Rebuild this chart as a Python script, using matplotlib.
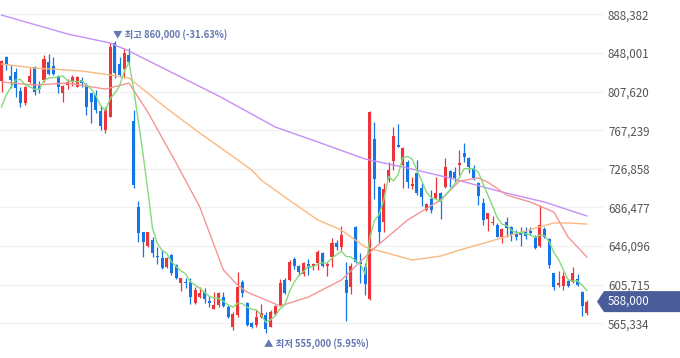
import numpy as np
import pandas as pd
import matplotlib
matplotlib.use('Agg')
import matplotlib.pyplot as plt
from matplotlib.patches import Polygon

plt.rcParams['font.family'] = ['Noto Sans CJK KR', 'DejaVu Sans']

# 일봉 시가 / 고가 / 저가 / 종가 (단위: 천원)
open_k = [819, 844, 824, 828, 808, 796, 818, 833, 813, 820,
          839, 834, 823, 806, 814, 818, 812, 820, 814, 806,
          804, 787, 767, 781, 858, 836, 831, 846, 777, 687,
          661, 646, 652, 636, 634, 624, 637, 626, 607, 609,
          609, 587, 593, 598, 589, 580, 584, 593, 582, 561,
          574, 609, 587, 566, 564, 572, 574, 561, 575, 584,
          611, 611, 633, 625, 617, 627, 625, 628, 639, 625,
          635, 649, 645, 611, 603, 666, 629, 624, 591, 758,
          708, 671, 715, 735, 752, 731, 734, 709, 722, 707,
          684, 695, 696, 702, 708, 725, 724, 731, 743, 738,
          728, 712, 691, 674, 670, 668, 656, 671, 666, 659,
          660, 661, 662, 656, 646, 664, 653, 618, 605, 604,
          610, 608, 612, 598, 576]
high_k = [841, 845, 835, 832, 812, 813, 832, 834, 819, 846,
          847, 844, 825, 814, 821, 825, 824, 823, 817, 806,
          809, 792, 791, 858, 860, 844, 853, 853, 788, 693,
          661, 661, 656, 645, 642, 635, 638, 627, 613, 613,
          613, 603, 603, 602, 594, 598, 598, 598, 584, 577,
          619, 611, 588, 567, 579, 586, 577, 579, 584, 612,
          613, 632, 635, 626, 629, 633, 628, 642, 640, 629,
          655, 652, 667, 629, 628, 667, 639, 628, 787, 776,
          709, 712, 734, 771, 774, 750, 736, 718, 736, 712,
          691, 705, 718, 703, 738, 726, 729, 746, 754, 739,
          731, 713, 696, 681, 677, 670, 665, 676, 667, 663,
          666, 666, 666, 658, 689, 666, 654, 618, 620, 619,
          611, 624, 617, 599, 590]
low_k = [807, 830, 811, 802, 791, 794, 817, 804, 806, 818,
         825, 825, 806, 797, 810, 813, 812, 812, 783, 775,
         785, 767, 764, 781, 822, 823, 822, 835, 707, 650,
         635, 645, 635, 627, 622, 623, 616, 612, 599, 602,
         586, 586, 592, 587, 582, 580, 582, 582, 571, 558,
         572, 593, 563, 560, 561, 571, 555, 561, 574, 583,
         596, 610, 622, 616, 615, 616, 621, 621, 624, 615,
         624, 642, 642, 568, 596, 628, 607, 595, 590, 695,
         649, 661, 713, 726, 750, 707, 707, 706, 699, 688,
         683, 681, 695, 674, 707, 708, 713, 720, 734, 722,
         715, 689, 668, 662, 668, 656, 649, 656, 651, 652,
         646, 653, 658, 643, 645, 654, 623, 600, 603, 600,
         603, 607, 604, 573, 574]
close_k = [840, 835, 820, 811, 796, 812, 824, 807, 810, 842,
           826, 826, 812, 813, 818, 823, 823, 817, 791, 797,
           788, 772, 789, 854, 827, 825, 848, 838, 710, 660,
           650, 661, 639, 635, 623, 634, 618, 613, 613, 607,
           593, 600, 597, 591, 587, 584, 597, 583, 572, 575,
           603, 597, 564, 561, 572, 576, 559, 577, 583, 607,
           597, 629, 625, 619, 628, 623, 627, 640, 625, 627,
           649, 645, 658, 597, 625, 629, 627, 606, 786, 716,
           661, 706, 726, 761, 750, 749, 713, 711, 702, 697,
           690, 684, 702, 692, 729, 717, 717, 733, 739, 729,
           717, 698, 673, 681, 671, 656, 664, 665, 658, 656,
           658, 657, 660, 644, 668, 656, 626, 603, 607, 615,
           604, 618, 605, 583, 588]

# 이동평균선 (화면에서 읽은 값)
ma5_head_k = [791.4, 804.0, 812.3, 819.7]
ma20_idx = [0, 7, 14, 22, 27, 31, 37, 42, 47, 50, 52, 59, 65, 72, 79, 86, 93, 97, 101, 103, 107, 112, 117, 120, 124]
ma20_k = [817.6, 814.4, 816.5, 810.2, 816.5, 786.0, 732.9, 686.9, 621.0, 605.3, 598.0, 583.4, 592.8,
          610.6, 644.0, 673.3, 694.2, 714.1, 717.2, 713.0, 699.4, 692.1, 681.6, 655.5, 634.6]
ma60_idx = [0, 7, 17, 23, 27, 35, 42, 48, 53, 55, 60, 67, 72, 77, 87, 93, 97, 103, 110, 117, 120, 124]
ma60_k = [836.4, 832.2, 829.1, 824.9, 821.8, 790.0, 764.2, 743.3, 725.6, 715.1, 697.3, 673.3, 662.8,
          645.1, 631.5, 635.6, 641.9, 650.3, 660.7, 670.2, 670.2, 669.1]
ma120_idx = [0, 14, 23, 27, 46, 58, 67, 77, 86, 95, 106, 115, 124]
ma120_k = [887.6, 867.8, 858.4, 850.0, 803.0, 770.5, 754.9, 737.1, 727.7, 717.2, 702.6, 692.1, 677.5]

ytick_vals = [888382, 848001, 807620, 767239, 726858, 686477, 646096, 605715, 565334]

o = np.array(open_k) * 1000
h = np.array(high_k) * 1000
l = np.array(low_k) * 1000
c = np.array(close_k) * 1000
x = np.arange(len(c))

fig = plt.figure(figsize=(6.8, 3.58), dpi=100)
ax = fig.add_axes([0, 0, 603 / 680, 1])
ax.set_xlim(-0.32, 127.4)
ax.set_ylim(529051, 903340)

for v in ytick_vals:
    ax.axhline(v, color='#f0f1f3', lw=1, zorder=0)

# 캔들 (상승 빨강, 하락 파랑)
col = np.where(c >= o, '#ec3439', '#1476e6')
ax.vlines(x, l, h, colors=col, lw=0.9, zorder=2)
body = np.maximum(np.abs(c - o), 1000)
ax.bar(x, body, bottom=np.minimum(o, c), width=0.64, color=col, linewidth=0, zorder=3)

ma5 = pd.Series(c, dtype=float).rolling(5).mean().values
ma5[:4] = np.array(ma5_head_k) * 1000
ax.plot(ma120_idx, np.array(ma120_k) * 1000, color='#c490f6', lw=1.0, zorder=4)
ax.plot(ma60_idx, np.array(ma60_k) * 1000, color='#fbb880', lw=1.0, zorder=4)
ax.plot(ma20_idx, np.array(ma20_k) * 1000, color='#f59595', lw=1.0, zorder=4)
ax.plot(x, ma5, color='#86d97c', lw=1.0, zorder=4)

ax.yaxis.tick_right()
ax.set_yticks(ytick_vals)
ax.set_yticklabels(['{:,}'.format(v) for v in ytick_vals])
ax.tick_params(axis='y', length=0, pad=3.6, labelsize=8.3, labelcolor='#555555')
ax.set_xticks([])
for s in ax.spines.values():
    s.set_visible(False)

# 최고 / 최저 표시
last = c[-1]
hi_i = int(np.argmax(h))
lo_i = int(np.argmin(l))
hi, lo = h[hi_i], l[lo_i]
lab_col = '#6577b0'
ax.annotate('▼ 최고 {:,.0f} ({:.2f}%)'.format(hi, (last - hi) / hi * 100),
            xy=(hi_i, hi), xytext=(-1.5, 5.3), textcoords='offset points',
            ha='left', va='center', fontsize=6.8, color=lab_col, fontweight='bold')
ax.annotate('▲ 최저 {:,.0f} ({:.2f}%)'.format(lo, (last - lo) / lo * 100),
            xy=(lo_i, lo), xytext=(-1.2, -7.2), textcoords='offset points',
            ha='left', va='center', fontsize=6.8, color=lab_col, fontweight='bold')

# 현재가 태그
disp = ax.transData.transform((0, last))
yf = fig.transFigure.inverted().transform(disp)[1]
hh = 10.5 / 358
pts = [(597 / 680, yf), (604 / 680, yf + hh), (1.0, yf + hh), (1.0, yf - hh), (604 / 680, yf - hh)]
fig.patches.append(Polygon(pts, closed=True, transform=fig.transFigure,
                           facecolor='#4a5c9a', edgecolor='none'))
fig.text(607.5 / 680, yf, '{:,.0f}'.format(last), color='white', fontsize=8.3,
         ha='left', va='center')

fig.savefig('out.png', dpi=100)
